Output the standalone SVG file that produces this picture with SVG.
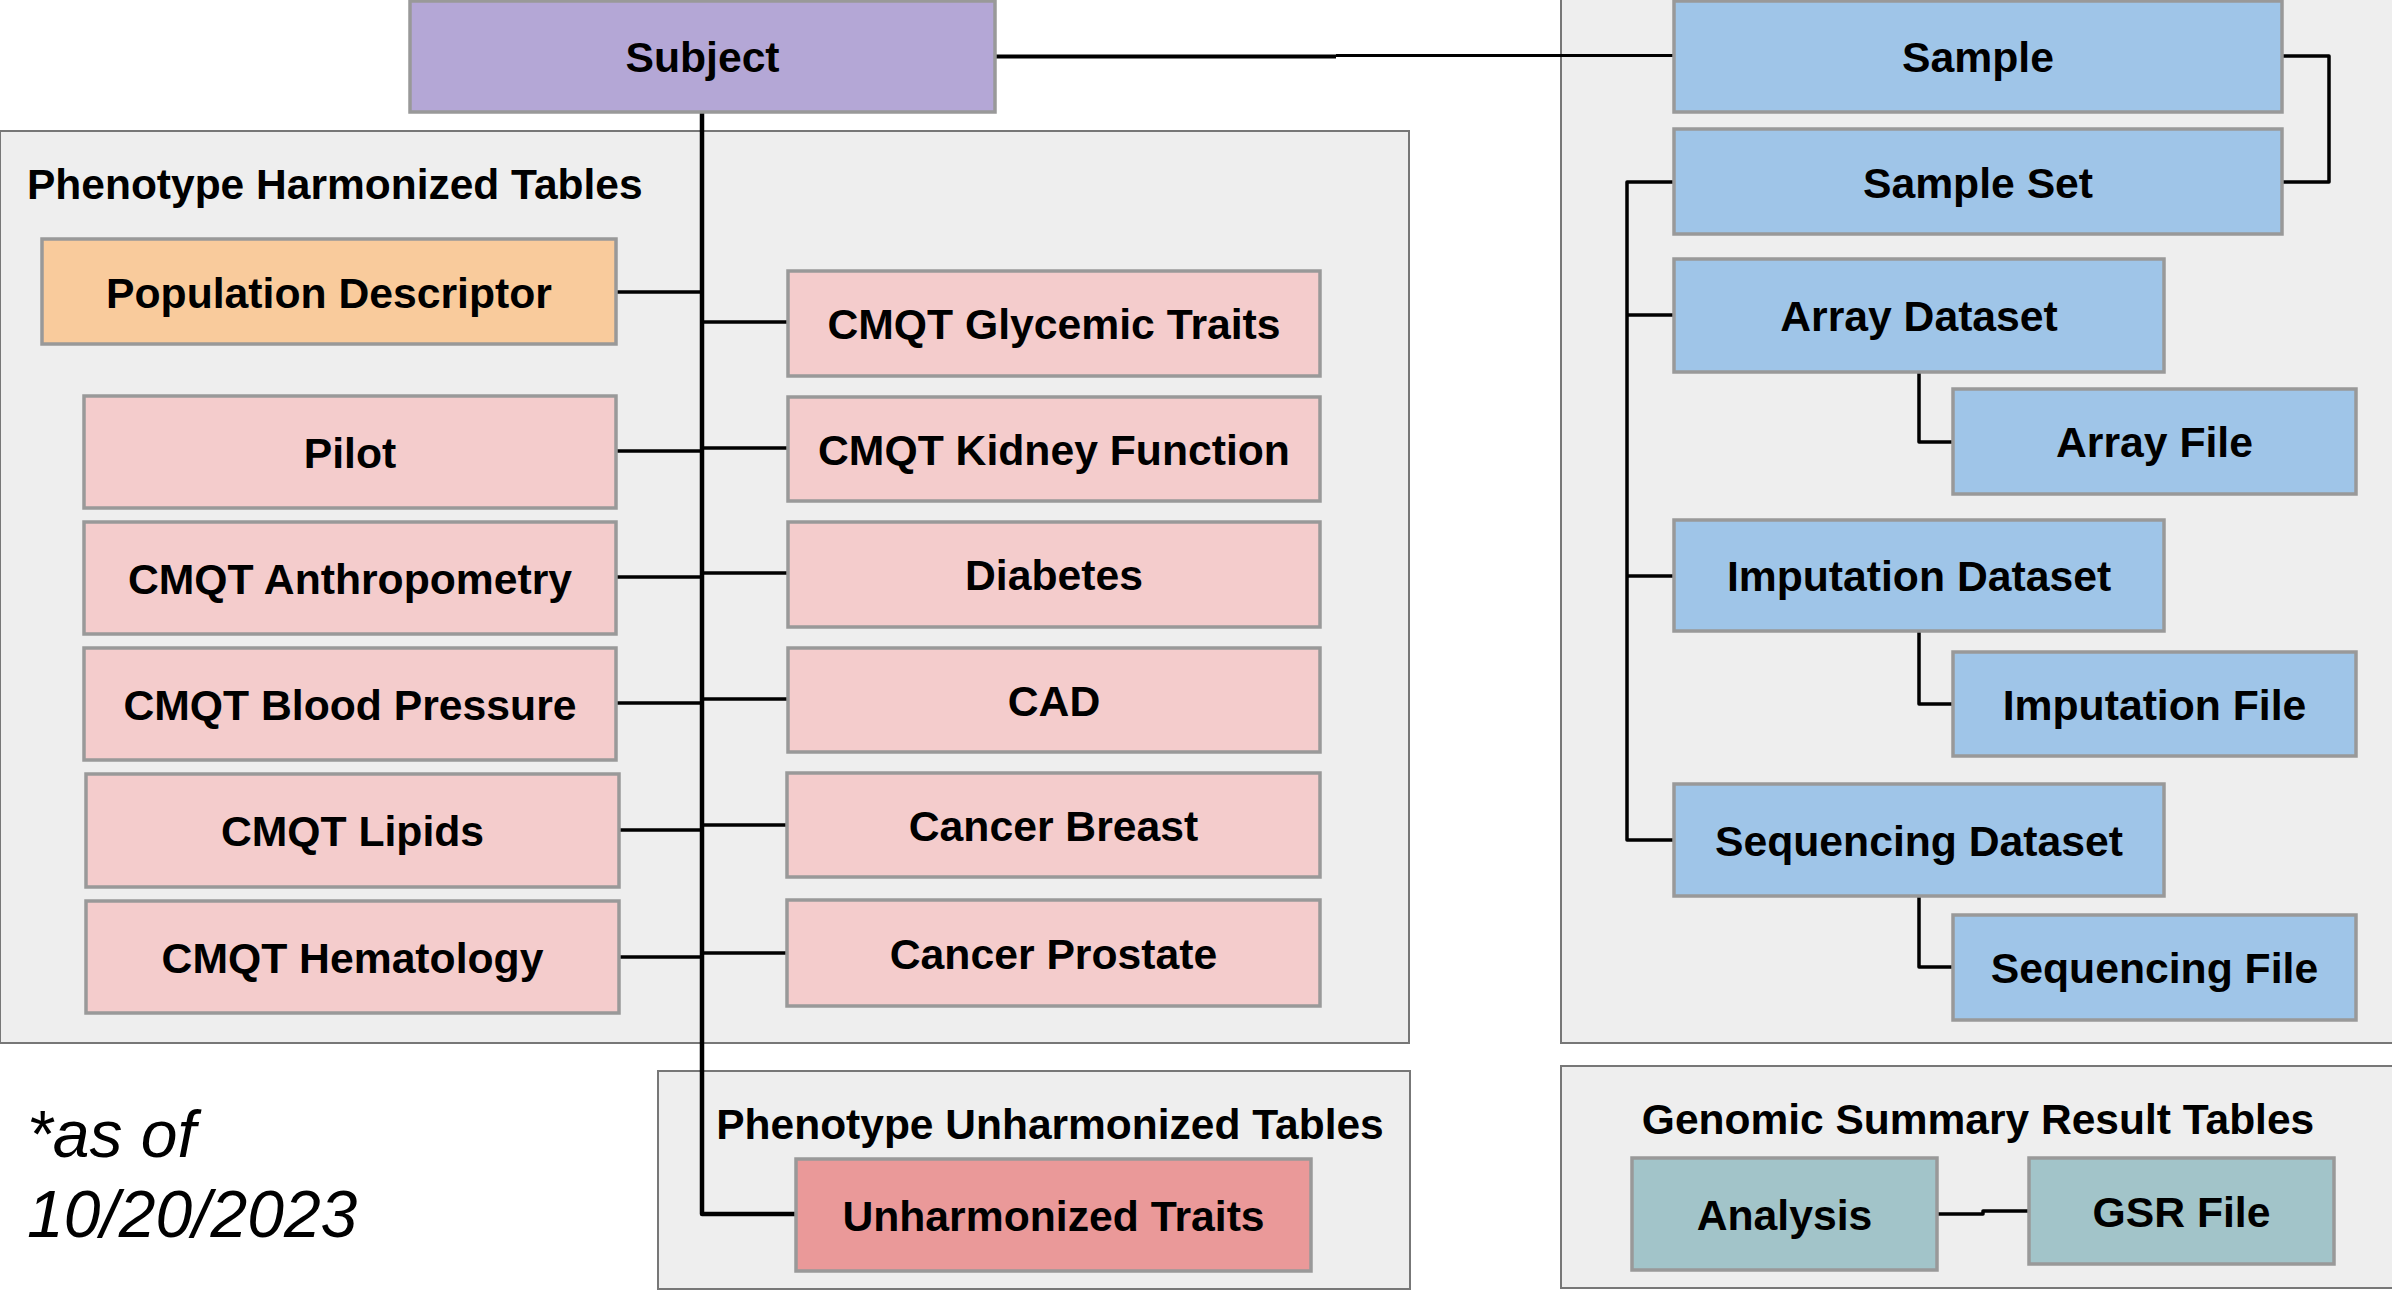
<svg xmlns="http://www.w3.org/2000/svg" width="2392" height="1290" viewBox="0 0 2392 1290">
<style>
.bg{fill:#ffffff}
.cont{fill:#eeeeee;stroke:#777777;stroke-width:2}
.node rect{stroke:#999999;stroke-width:3.5}
.purple{fill:#b4a7d6}
.orange{fill:#f9cb9c}
.pink{fill:#f4cccc}
.red{fill:#ea9999}
.blue{fill:#9fc5e8}
.teal{fill:#a2c4c9}
text{font-family:"Liberation Sans",Arial,Helvetica,sans-serif;fill:#000000}
.lbl{font-size:42.7px;font-weight:bold;text-anchor:middle}
.title{font-size:42.5px;font-weight:bold}
.note{font-size:66px;font-style:italic}
.conn path{fill:none;stroke:#000000;stroke-width:3.5;stroke-linejoin:round}
.conn .trunk{stroke-width:4.5}
</style>
<rect class="bg" x="0" y="0" width="2392" height="1290"/>

<g id="containers">
  <g id="phenotype-harmonized-tables">
    <rect class="cont" x="0" y="131" width="1409" height="912"/>
    <text class="title" x="27" y="199">Phenotype Harmonized Tables</text>
  </g>
  <g id="phenotype-unharmonized-tables">
    <rect class="cont" x="658" y="1071" width="752" height="218"/>
    <text class="title" x="1050" y="1139" text-anchor="middle">Phenotype Unharmonized Tables</text>
  </g>
  <g id="genomic-container">
    <rect class="cont" x="1561" y="-5" width="840" height="1048"/>
  </g>
  <g id="gsr-tables">
    <rect class="cont" x="1561" y="1066" width="840" height="222"/>
    <text class="title" x="1978" y="1134" text-anchor="middle">Genomic Summary Result Tables</text>
  </g>
</g>

<g id="connectors" class="conn">
  <path class="trunk" d="M702,112 V1214 H796"/>
  <path d="M616,292 H702"/>
  <path d="M702,322 H788"/>
  <path d="M616,451 H702"/>
  <path d="M702,448 H788"/>
  <path d="M616,577 H702"/>
  <path d="M702,573 H788"/>
  <path d="M616,703 H702"/>
  <path d="M702,699 H788"/>
  <path d="M619,830 H702"/>
  <path d="M702,825 H787"/>
  <path d="M619,957 H702"/>
  <path d="M702,953 H787"/>
  <path d="M995,56.5 H1336" style="stroke-width:4"/>
  <path d="M1336,55.5 H1674" style="stroke-width:3"/>
  <path d="M2282,56 H2329 V182 H2282"/>
  <path d="M1674,182 H1627 V840 H1674"/>
  <path d="M1627,315 H1674"/>
  <path d="M1627,576 H1674"/>
  <path d="M1919,372 V442 H1953"/>
  <path d="M1919,631 V704 H1953"/>
  <path d="M1919,896 V967 H1953"/>
  <path d="M1937,1214 H1983 V1211 H2029"/>
</g>

<g id="subject" class="node"><rect class="purple" x="410" y="1" width="585" height="111"/><text class="lbl" x="702.5" y="72">Subject</text></g>
<g id="population-descriptor" class="node"><rect class="orange" x="42" y="239" width="574" height="105"/><text class="lbl" x="329" y="308">Population Descriptor</text></g>
<g id="pilot" class="node"><rect class="pink" x="84" y="396" width="532" height="112"/><text class="lbl" x="350" y="468">Pilot</text></g>
<g id="cmqt-anthropometry" class="node"><rect class="pink" x="84" y="522" width="532" height="112"/><text class="lbl" x="350" y="594">CMQT Anthropometry</text></g>
<g id="cmqt-blood-pressure" class="node"><rect class="pink" x="84" y="648" width="532" height="112"/><text class="lbl" x="350" y="720">CMQT Blood Pressure</text></g>
<g id="cmqt-lipids" class="node"><rect class="pink" x="86" y="774" width="533" height="113"/><text class="lbl" x="352.5" y="846">CMQT Lipids</text></g>
<g id="cmqt-hematology" class="node"><rect class="pink" x="86" y="901" width="533" height="112"/><text class="lbl" x="352.5" y="973">CMQT Hematology</text></g>
<g id="cmqt-glycemic-traits" class="node"><rect class="pink" x="788" y="271" width="532" height="105"/><text class="lbl" x="1054" y="339">CMQT Glycemic Traits</text></g>
<g id="cmqt-kidney-function" class="node"><rect class="pink" x="788" y="397" width="532" height="104"/><text class="lbl" x="1054" y="465">CMQT Kidney Function</text></g>
<g id="diabetes" class="node"><rect class="pink" x="788" y="522" width="532" height="105"/><text class="lbl" x="1054" y="590">Diabetes</text></g>
<g id="cad" class="node"><rect class="pink" x="788" y="648" width="532" height="104"/><text class="lbl" x="1054" y="716">CAD</text></g>
<g id="cancer-breast" class="node"><rect class="pink" x="787" y="773" width="533" height="104"/><text class="lbl" x="1053.5" y="841">Cancer Breast</text></g>
<g id="cancer-prostate" class="node"><rect class="pink" x="787" y="900" width="533" height="106"/><text class="lbl" x="1053.5" y="969">Cancer Prostate</text></g>
<g id="unharmonized-traits" class="node"><rect class="red" x="796" y="1159" width="515" height="112"/><text class="lbl" x="1053.5" y="1231">Unharmonized Traits</text></g>

<g id="sample" class="node"><rect class="blue" x="1674" y="1" width="608" height="111"/><text class="lbl" x="1978" y="72">Sample</text></g>
<g id="sample-set" class="node"><rect class="blue" x="1674" y="129" width="608" height="105"/><text class="lbl" x="1978" y="198">Sample Set</text></g>
<g id="array-dataset" class="node"><rect class="blue" x="1674" y="259" width="490" height="113"/><text class="lbl" x="1919" y="331">Array Dataset</text></g>
<g id="array-file" class="node"><rect class="blue" x="1953" y="389" width="403" height="105"/><text class="lbl" x="2154.5" y="457">Array File</text></g>
<g id="imputation-dataset" class="node"><rect class="blue" x="1674" y="520" width="490" height="111"/><text class="lbl" x="1919" y="591">Imputation Dataset</text></g>
<g id="imputation-file" class="node"><rect class="blue" x="1953" y="652" width="403" height="104"/><text class="lbl" x="2154.5" y="720">Imputation File</text></g>
<g id="sequencing-dataset" class="node"><rect class="blue" x="1674" y="784" width="490" height="112"/><text class="lbl" x="1919" y="856">Sequencing Dataset</text></g>
<g id="sequencing-file" class="node"><rect class="blue" x="1953" y="915" width="403" height="105"/><text class="lbl" x="2154.5" y="983">Sequencing File</text></g>
<g id="analysis" class="node"><rect class="teal" x="1632" y="1158" width="305" height="112"/><text class="lbl" x="1784.5" y="1230">Analysis</text></g>
<g id="gsr-file" class="node"><rect class="teal" x="2029" y="1158" width="305" height="106"/><text class="lbl" x="2181.5" y="1227">GSR File</text></g>

<g id="note">
  <text class="note" x="27" y="1157">*as of</text>
  <text class="note" x="27" y="1237">10/20/2023</text>
</g>
</svg>
